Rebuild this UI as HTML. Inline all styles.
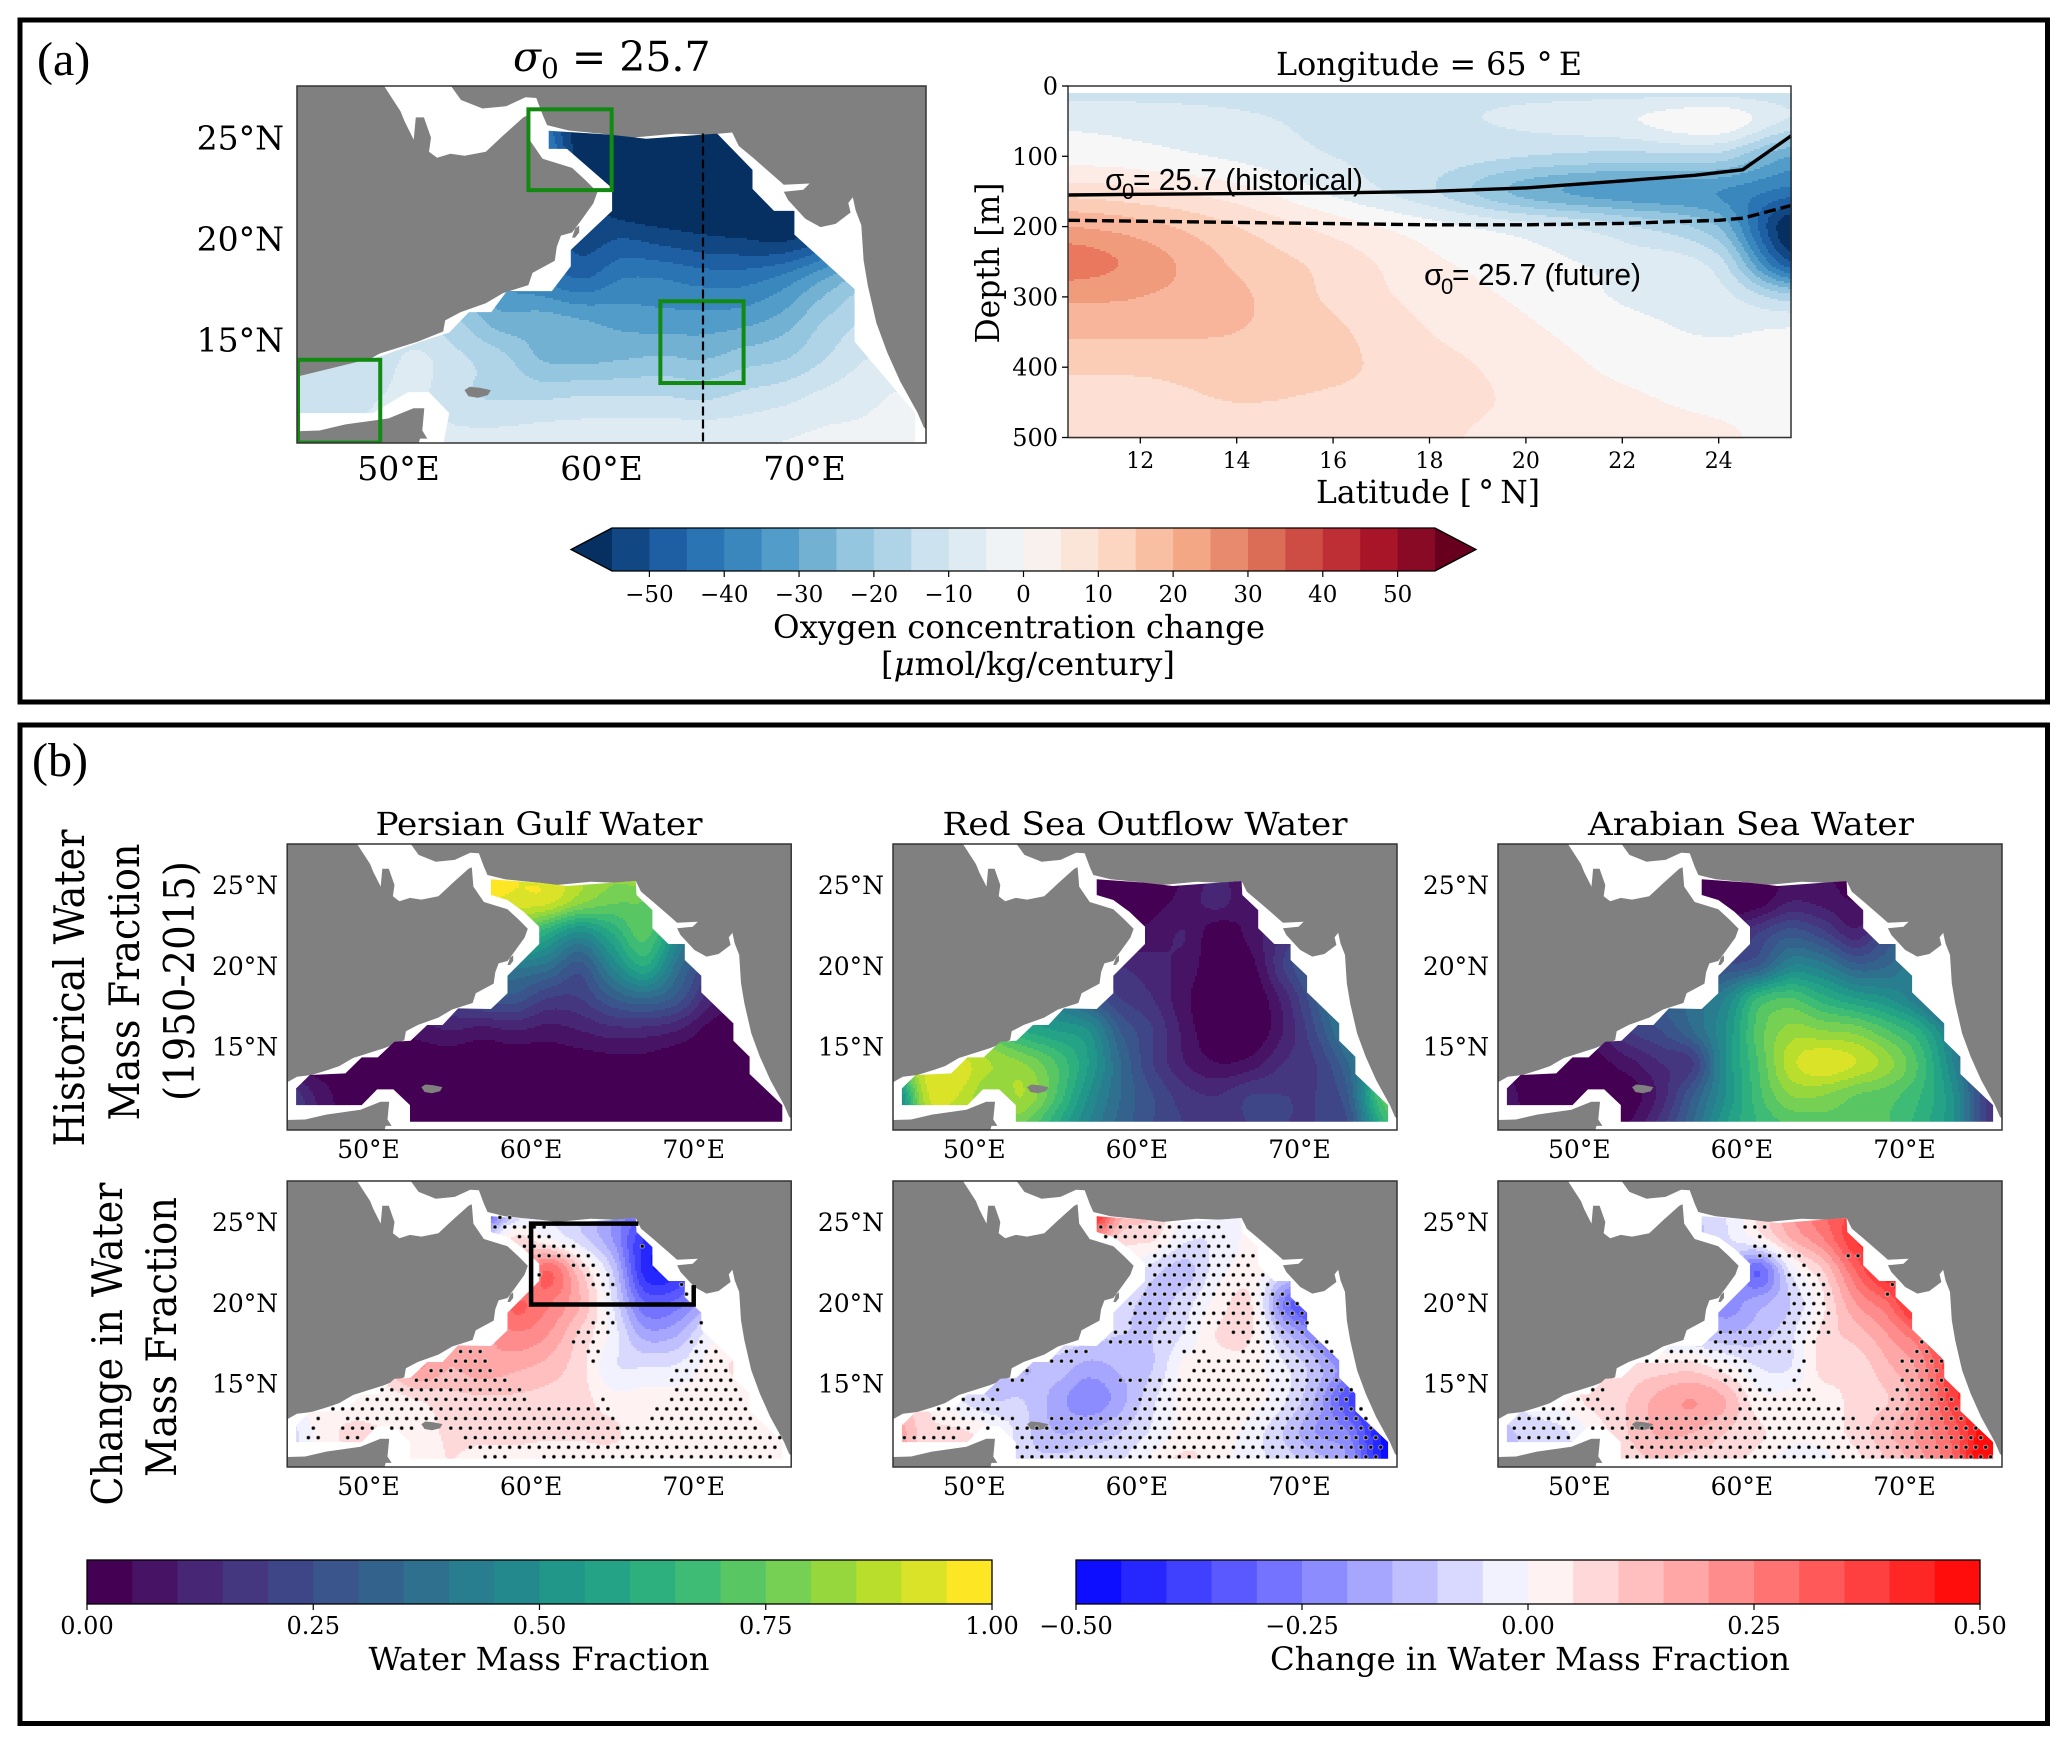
<!DOCTYPE html>
<html lang="en">
<head>
<meta charset="utf-8">
<title>Arabian Sea oxygen change and water mass fractions</title>
<style>
html,body{margin:0;padding:0;background:#fff;}
svg{display:block;}
text{fill:#000;font-family:"DejaVu Serif","Liberation Serif",serif;}
.serif2{font-family:"Liberation Serif",serif;}
.sans{font-family:"Liberation Sans","DejaVu Sans",sans-serif;}
</style>
</head>
<body>
<svg id="figure" xmlns="http://www.w3.org/2000/svg" width="2067" height="1744" viewBox="0 0 2067 1744">
  <rect x="0" y="0" width="2067" height="1744" fill="#fff"/>
  <rect x="20" y="20" width="2027.5" height="682" fill="none" stroke="#000" stroke-width="5"/>
  <rect x="20" y="725" width="2027.5" height="998.5" fill="none" stroke="#000" stroke-width="5"/>
  <text class="serif2" x="37" y="75" font-size="48">(a)</text>
  <text class="serif2" x="32" y="776" font-size="48">(b)</text>
  <g id="plots"></g>

  <text x="513" y="71" font-size="41"><tspan font-style="italic">σ</tspan><tspan font-size="28" dy="7">0</tspan><tspan dy="-7"> = 25.7</tspan></text>
  <text x="1429" y="75" font-size="32" text-anchor="middle" textLength="306" lengthAdjust="spacingAndGlyphs">Longitude = 65 °&#8201;E</text>
  <text x="1428" y="503" font-size="32" text-anchor="middle" textLength="224" lengthAdjust="spacingAndGlyphs">Latitude [&#8201;°&#8201;N]</text>
  <text transform="translate(999,263) rotate(-90)" font-size="33" text-anchor="middle" textLength="161" lengthAdjust="spacingAndGlyphs">Depth [m]</text>
  <g>
    <text class="sans" x="1105" y="190" font-size="31">σ</text>
    <text class="sans" x="1122" y="199" font-size="22">0</text>
    <text class="sans" x="1133" y="190" font-size="31" textLength="230" lengthAdjust="spacingAndGlyphs">= 25.7 (historical)</text>
  </g>
  <g>
    <text class="sans" x="1424" y="285" font-size="31">σ</text>
    <text class="sans" x="1441" y="294" font-size="22">0</text>
    <text class="sans" x="1452" y="285" font-size="31" textLength="189" lengthAdjust="spacingAndGlyphs">= 25.7 (future)</text>
  </g>
  <text x="1019" y="638" font-size="32" text-anchor="middle" textLength="492" lengthAdjust="spacingAndGlyphs">Oxygen concentration change</text>
  <text x="1028" y="675" font-size="32" text-anchor="middle" textLength="294" lengthAdjust="spacingAndGlyphs">[<tspan font-style="italic">μ</tspan>mol/kg/century]</text>

  <text x="539" y="835" font-size="32" text-anchor="middle" textLength="327" lengthAdjust="spacingAndGlyphs">Persian Gulf Water</text>
  <text x="1145" y="835" font-size="32" text-anchor="middle" textLength="405" lengthAdjust="spacingAndGlyphs">Red Sea Outflow Water</text>
  <text x="1751" y="835" font-size="32" text-anchor="middle" textLength="326" lengthAdjust="spacingAndGlyphs">Arabian Sea Water</text>

  <text transform="translate(84,988) rotate(-90)" font-size="42" text-anchor="middle" textLength="317" lengthAdjust="spacingAndGlyphs">Historical Water</text>
  <text transform="translate(139,982) rotate(-90)" font-size="42" text-anchor="middle" textLength="277" lengthAdjust="spacingAndGlyphs">Mass Fraction</text>
  <text transform="translate(194,981) rotate(-90)" font-size="42" text-anchor="middle" textLength="240" lengthAdjust="spacingAndGlyphs">(1950-2015)</text>
  <text transform="translate(122,1344) rotate(-90)" font-size="42" text-anchor="middle" textLength="323" lengthAdjust="spacingAndGlyphs">Change in Water</text>
  <text transform="translate(176,1337) rotate(-90)" font-size="42" text-anchor="middle" textLength="280" lengthAdjust="spacingAndGlyphs">Mass Fraction</text>

  <text x="539" y="1670" font-size="32" text-anchor="middle" textLength="341" lengthAdjust="spacingAndGlyphs">Water Mass Fraction</text>
  <text x="1530" y="1670" font-size="32" text-anchor="middle" textLength="520" lengthAdjust="spacingAndGlyphs">Change in Water Mass Fraction</text>
</svg>
<script>
/* ---------- map tick values ---------- */
const mapLonTicks = [50, 60, 70];
const mapLatTicks = [25, 20, 15];
const sectionLatTicks = [12, 14, 16, 18, 20, 22, 24];
const sectionDepthTicks = [0, 100, 200, 300, 400, 500];
const oxygenTicks = [-50, -40, -30, -20, -10, 0, 10, 20, 30, 40, 50];
const fractionTicks = [0, 0.25, 0.5, 0.75, 1];
const changeTicks = [-0.5, -0.25, 0, 0.25, 0.5];

/* ---------- geography (lon, lat) ---------- */
const seaOutline = [[49.26,27.6],[52.55,27.6],[53.08,26.86],[54.14,26.44],[55.3,26.55],[56.26,27],[56.79,26.96],[57.1,26.13],[57.32,25.62],[58.38,25.35],[60.5,25.14],[61.56,25],[63.68,25.2],[65.16,25.14],[66.44,25.25],[66.76,24.59],[67.5,23.97],[68.56,23.04],[68.98,22.67],[70.25,22.73],[69.94,22.42],[68.98,22.32],[69.19,21.91],[70.04,20.98],[70.79,20.57],[71.53,20.73],[72.27,21.29],[72.16,21.76],[72.38,22.05],[72.52,21.39],[72.8,20.67],[72.91,18.92],[73.12,17.68],[73.54,15.82],[74.07,14.38],[74.71,12.94],[75.56,11.39],[75.87,10.67],[76.1,10.46],[76.1,9.7],[50.95,9.7],[51.06,10.1],[51.42,10.1],[51.17,10.5],[51.27,11.6],[50.74,11.6],[49.51,11.1],[47.39,10.8],[46.11,10.5],[44.9,10.46],[44.9,12.74],[45.6,13.14],[46.5,13.25],[47.5,13.56],[48.2,13.8],[49.05,14.3],[50.95,14.9],[52.2,15.4],[52.3,15.95],[53.05,16.35],[54.3,16.8],[55.15,17.3],[56.4,17.7],[56.6,18.3],[57.7,18.9],[57.8,19.6],[58,20.15],[58.55,20.3],[59,20.9],[59.6,21.75],[59.8,22.3],[59.2,22.9],[58.55,23.5],[57.1,23.95],[56.45,24.9],[56.35,26.1],[56.15,26],[55.15,25.1],[54.3,24.3],[53.25,24.1],[52.55,24.2],[51.9,24],[51.5,24.3],[51.6,25],[51.25,26],[50.85,26],[50.75,24.9],[50.3,25.8],[50.1,26.3]];
const dataRegion = [[57.53,25.35],[60.5,25.14],[62.2,24.94],[66.44,25.25],[66.48,24.38],[67.46,23.45],[67.46,22.32],[68.45,21.35],[69.45,21.35],[69.45,20.36],[70.47,19.39],[70.47,18.36],[72.44,16.44],[72.44,15.37],[73.44,14.38],[73.44,13.31],[75.45,11.39],[75.45,10.36],[52.55,10.36],[52.55,11.39],[51.53,12.36],[50.53,12.36],[49.58,11.39],[45.55,11.39],[45.55,12.42],[46.39,13.25],[48.58,13.35],[49.58,14.34],[50.57,14.34],[51.59,15.31],[52.59,15.37],[53.61,16.34],[54.56,16.34],[55.51,17.37],[57.53,17.33],[58.55,18.3],[58.55,19.39],[60.5,21.35],[60.5,22.42],[59.54,23.35],[58.55,24.07],[57.53,24.38]];
const oxygenRegion = [[57.4,25.34],[60.5,25.14],[62.2,24.94],[65.7,25.2],[67.44,23.4],[67.44,22.46],[68.5,21.37],[69.5,21.37],[69.5,20.2],[72.47,17.5],[72.47,16],[72.47,14.9],[75.46,11.35],[75.46,9.8],[52.2,9.8],[52.5,11.36],[51.5,12.4],[50.47,12.4],[48.74,11.36],[45.13,11.36],[45.13,13.2],[49.2,14.2],[51.1,14.9],[52.5,15.35],[53.47,16.36],[54.57,16.36],[55.34,17.4],[57.55,17.4],[58.49,18.63],[58.49,19.44],[60.52,21.37],[60.52,22.5],[58.3,24.44],[57.4,24.44]];
const socotraIsland = [[53.25,12.5],[53.5,12.66],[54,12.62],[54.55,12.5],[54.4,12.25],[53.9,12.12],[53.45,12.2]];
const masirahIsland = [[58.55,20.05],[58.7,20.5],[58.9,20.65],[58.9,20.3],[58.7,20.05]];

/* ---------- field grid axes ---------- */
const gridLons = [45,47,49,51,53,55,57,59,61,63,65,67,69,71,73,75,77];
const gridLats = [26,24,22,20,18,16,14,12,10];

/* ---------- oxygen change on sigma surface (umol/kg/century) ---------- */
const oxygenChange = [
[-20,-20,-20,-20,-20,-20,-40,-60,-62,-62,-62,-62,-62,-60,-50,-30,-30],
[-20,-20,-20,-20,-20,-20,-35,-58,-62,-62,-62,-62,-62,-58,-50,-30,-30],
[-20,-20,-20,-20,-20,-30,-45,-52,-60,-62,-62,-62,-62,-58,-45,-30,-30],
[-20,-20,-20,-20,-20,-30,-45,-52,-50,-52,-54,-55,-56,-50,-40,-30,-30],
[-15,-15,-15,-20,-25,-35,-40,-45,-40,-40,-42,-42,-38,-30,-22,-20,-20],
[-12,-12,-13,-15,-20,-28,-28,-30,-32,-33,-33,-32,-28,-20,-15,-15,-15],
[-13,-13,-12,-9,-14,-18,-25,-26,-25,-24,-25,-22,-20,-15,-10,-8,-8],
[-14,-12,-10,-9,-14,-15,-15,-14,-14,-14,-15,-13,-11,-8,-6,-4,-4],
[-12,-10,-9,-7,-8,-8,-7,-7,-6,-6,-6,-6,-5,-4,-4,-3,-3]];

/* ---------- historical water mass fractions ---------- */
const pgwHistory = [
[.95,.95,.95,.95,.95,.95,.97,.95,.92,.85,.82,.85,.8,.7,.6,.5,.5],
[.9,.9,.9,.9,.9,.9,.95,.93,.92,.82,.76,.75,.7,.5,.4,.3,.3],
[.5,.5,.5,.5,.6,.7,.8,.75,.6,.48,.6,.72,.5,.3,.2,.1,.1],
[.3,.3,.3,.3,.35,.4,.42,.42,.38,.28,.46,.6,.38,.2,.1,.05,.05],
[.1,.1,.1,.1,.15,.22,.28,.28,.2,.2,.3,.35,.28,.12,.05,.02,.02],
[.02,.02,.02,.03,.07,.1,.08,.1,.08,.1,.13,.13,.1,.03,.01,.01,.01],
[.02,.02,.02,.01,.01,.01,.01,.01,.01,.02,.03,.03,.01,.01,.01,.01,.01],
[.2,.08,.02,.01,.01,.01,.01,.01,.01,.01,.01,.01,.01,.01,.01,.01,.01],
[.25,.1,.02,.01,.01,.01,.01,.01,.01,.01,.01,.01,.01,.01,.01,.01,.01]];
const rsowHistory = [
[.4,.1,.05,.02,.02,.02,.01,.01,.02,.05,.1,.05,.05,.1,.2,.3,.3],
[.3,.1,.05,.02,.02,.02,.01,.01,.03,.07,.12,.05,.08,.15,.2,.3,.3],
[.3,.2,.15,.12,.1,.1,.1,.05,.07,.1,.01,.07,.15,.25,.35,.4,.4],
[.4,.3,.25,.25,.25,.25,.2,.15,.12,.08,.01,.03,.2,.35,.5,.6,.6],
[.5,.5,.45,.45,.45,.4,.3,.2,.15,.06,0,0,.12,.3,.5,.7,.7],
[.7,.75,.75,.7,.6,.55,.5,.3,.2,.08,0,0,.1,.25,.45,.7,.7],
[.75,.9,.92,.85,.8,.7,.55,.35,.2,.1,.05,.07,.15,.2,.35,.6,.6],
[.4,.88,.9,.8,.85,.7,.5,.35,.25,.17,.15,.2,.2,.2,.3,.7,.8],
[.35,.8,.85,.8,.75,.6,.45,.33,.25,.2,.18,.2,.2,.2,.25,.6,.8]];
const aswHistory = [
[.3,.2,.1,.05,.02,.02,0,0,.02,.05,.05,.05,.1,.2,.3,.3,.3],
[.3,.2,.1,.05,.02,.02,0,0,.02,.1,.08,.05,.1,.2,.3,.3,.3],
[.3,.2,.15,.1,.1,.1,.05,.1,.2,.28,.22,.12,.25,.3,.3,.3,.3],
[.3,.25,.2,.2,.2,.2,.2,.25,.3,.45,.42,.32,.35,.45,.4,.3,.3],
[.2,.2,.2,.2,.25,.3,.35,.45,.65,.7,.62,.55,.5,.4,.2,.2,.2],
[.1,.1,.1,.1,.2,.25,.35,.5,.72,.82,.8,.78,.7,.6,.4,.2,.2],
[.05,.03,.02,.03,.08,.15,.2,.5,.7,.88,.94,.9,.82,.68,.45,.2,.2],
[.1,.02,.02,.05,.02,.12,.3,.5,.68,.8,.8,.75,.72,.65,.5,.2,.1],
[.12,.05,.03,.05,.05,.18,.35,.55,.65,.7,.72,.72,.7,.62,.5,.2,.1]];

/* ---------- change in water mass fraction ---------- */
const pgwChange = [
[-.05,-.05,-.05,-.05,-.05,-.1,-.4,-.15,-.05,-.1,-.2,-.25,-.2,-.1,0,0,0],
[0,0,0,0,0,0,-.1,.06,0,-.08,-.2,-.4,-.4,-.2,0,0,0],
[0,0,0,0,0,.02,.05,.1,.3,.11,-.1,-.42,-.42,-.25,-.05,0,0],
[.02,.02,.02,.02,.02,.05,.18,.3,.26,.15,-.05,-.3,-.28,-.15,-.02,0,0],
[.02,.02,.02,.05,.1,.14,.18,.24,.2,.09,-.02,-.17,-.15,-.02,.02,.02,.02],
[.02,.02,.02,.08,.2,.15,.18,.16,.13,.07,-.04,-.05,-.04,.02,.06,.02,.02],
[.02,.02,.02,.02,.05,.08,.09,.09,.08,.07,.02,.02,.02,.02,.02,.02,.02],
[-.08,.02,.06,.05,.03,.06,.07,.07,.06,.06,.06,.02,.02,.02,.02,.02,.02],
[-.05,.02,.04,.03,.02,.05,.02,.02,.02,.02,.02,.02,.02,.02,.02,.02,.02]];
const rsowChange = [
[.2,.2,.2,.2,.2,.3,.55,.2,.1,-.02,-.04,.02,.02,0,0,0,0],
[.02,.02,.02,.02,.02,.02,.25,.08,.06,-.04,-.04,.02,.07,.02,0,0,0],
[.02,.02,.02,.02,.02,.02,.02,.02,-.08,-.12,-.02,.02,-.05,-.1,-.2,-.2,-.2],
[.02,.02,.02,.02,.02,.02,-.04,-.07,-.12,-.07,.02,.055,-.25,-.4,-.5,-.5,-.5],
[.02,.02,.02,-.02,-.05,-.06,-.08,-.1,-.1,-.04,.055,.055,-.12,-.25,-.5,-.5,-.5],
[.02,.02,-.02,-.08,-.15,-.12,-.17,-.14,-.1,.02,.02,.02,-.04,-.13,-.25,-.4,-.4],
[.1,.05,-.04,-.1,-.1,-.17,-.24,-.17,-.06,.02,.02,.02,-.04,-.16,-.35,-.45,-.45],
[.2,.07,.06,.02,-.08,-.15,-.14,-.1,-.04,.02,.02,-.02,-.1,-.2,-.25,-.45,-.5],
[.2,.07,.05,.02,-.08,-.08,-.06,-.05,.02,.07,.02,-.03,-.07,-.12,-.2,-.45,-.5]];
const aswChange = [
[0,0,0,0,0,-.05,-.1,-.05,.05,.2,.3,.35,.4,.3,0,0,0],
[0,0,0,0,0,0,-.1,-.06,.02,.15,.25,.4,.45,.4,.2,0,0],
[0,0,0,0,0,0,-.05,-.1,-.3,-.04,.1,.3,.45,.45,.3,0,0],
[0,0,0,0,0,-.05,-.15,-.22,-.17,-.1,.04,.2,.3,.48,.45,.3,.3],
[0,0,0,-.02,-.05,-.08,-.1,-.14,-.12,-.06,.07,.12,.2,.3,.45,.4,.4],
[.02,.02,.02,.05,.06,.07,.08,.02,-.05,-.05,.07,.07,.14,.22,.4,.4,.4],
[-.05,-.02,.02,.07,.1,.17,.2,.15,.02,.02,.02,.07,.1,.2,.38,.45,.45],
[-.12,-.08,-.06,.02,.1,.16,.15,.1,.06,.02,.02,.07,.14,.22,.32,.5,.55],
[-.12,-.08,-.06,.02,.07,.1,.07,.06,.03,-.03,-.02,.03,.1,.18,.3,.55,.6]];

/* ---------- significance runs: [row index, lon start, lon end] ---------- */
const pgwSignificant = [[0,56.6,58.4],[0,60.7,75.2],[1,55.7,75.4],[2,45.8,47],[2,48.2,49.9],[2,55.4,75.3],[3,46.1,46.7],[3,48.4,50.3],[3,51.4,52.9],[3,54.8,74.3],[4,46.4,47],[4,48.2,65.6],[4,67.3,74],[5,47.3,65.2],[5,67.6,73.5],[6,49.4,59.6],[6,64.3,65],[6,68.6,73.4],[7,50.8,59.4],[7,68.8,72.8],[8,52.4,58.4],[8,68.6,72.5],[9,53.3,58],[9,68.9,72.5],[10,54.8,57.2],[10,63.8,64.4],[10,69.7,72.2],[11,55.6,56.9],[11,63.1,64.6],[11,70,71.7],[12,62.5,64.4],[12,69.7,71],[13,62.8,65.2],[14,63.8,65.5],[14,70.3,70.7],[15,64.6,65.3],[17,64.6,65.3],[17,69.3,69.6],[18,63.8,65.5],[18,69,69.4],[19,60.4,60.6],[19,63.5,65.2],[20,62.5,64.4],[21,60.3,64],[22,59.5,63.2],[22,66.8,67.1],[23,58.7,61.7],[24,57.7,61.4],[25,57.5,59.2]];
const rsowSignificant = [[0,52.7,75.1],[1,52.5,75.3],[2,45.6,49.3],[2,52.5,75.2],[3,47.6,49.7],[3,50.6,51.2],[3,52.5,74.5],[4,47.4,52.8],[4,54.2,74.3],[5,47.6,52],[5,59.7,73.8],[6,49.2,51.6],[6,59.7,73.3],[7,51.2,52],[7,60.3,73.2],[8,52.2,53.5],[8,58.6,72.8],[9,53.1,53.8],[9,63.3,72.4],[10,54.6,56.5],[10,63.5,72.2],[11,55.5,57.1],[11,62.7,64.6],[11,66.3,72],[12,58.2,62.4],[12,66.5,71.7],[13,58.4,63.9],[13,65.4,70.5],[14,59.3,68.3],[14,68.6,70.5],[15,59.7,70.3],[16,59.5,63.9],[16,65.4,67.5],[16,68.4,69.9],[17,60.1,69.3],[18,60.6,68.4],[19,60.9,68],[20,60.5,67.3],[21,60.9,67.4],[22,61.1,66.1],[23,57.8,65.6],[24,57.6,65.4]];
const aswSignificant = [[0,52.6,75.5],[1,52.8,75],[2,46,49.6],[2,52.7,74.8],[3,45.7,50.2],[3,50.7,74.4],[4,46,49.4],[4,51.3,67],[4,68.2,73.9],[5,47.6,52.4],[5,59.6,66.1],[5,68.3,73.4],[6,49.6,51.5],[6,59.8,64.7],[6,68.8,73.2],[7,50.8,51.7],[7,59.6,61.9],[7,63.1,64.3],[7,69.1,72.7],[8,51.8,52.2],[8,58.6,61],[8,63.2,63.6],[8,69.4,72.4],[9,58.3,60.7],[9,63.1,63.7],[9,69.7,72.2],[10,53.8,60.4],[10,63.7,64.3],[10,69.4,72.4],[11,55.3,63.4],[11,70.3,71.5],[12,58,64.7],[12,70.6,71.2],[13,58.3,65.5],[14,62.2,65.1],[15,62.5,65.5],[16,62.7,65.3],[17,62.5,65.5],[17,68.8,69.4],[18,62.9,65.3],[18,68.8,69.4],[19,62.5,64.9],[20,63.4,64],[20,60.2,60.6],[21,60.7,63.8],[21,66.5,67.3],[22,60.4,61.7],[23,60.7,61.4],[24,59.9,61.7]];

/* ---------- map annotations (lon, lat) ---------- */
const greenBoxLon0 = [56.4, 62.9, 45.05];
const greenBoxLon1 = [60.5, 67, 49.1];
const greenBoxLatTop = [26.4, 16.9, 14];
const greenBoxLatBottom = [22.4, 12.85, 9.9];
const transectLon = 65;
const transectLatTop = 25.2;
const blackBoxLon = [66.6, 60, 60, 70, 70];
const blackBoxLat = [24.9, 24.9, 19.9, 19.9, 21.1];

/* ---------- depth section along 65E ---------- */
const sectionLats = [10.5, 12, 14, 16, 18, 20, 22, 24, 25.5];
const sectionDepths = [10, 50, 100, 150, 200, 250, 300, 350, 400, 450, 500];
const sectionChange = [
[-11,-11,-11,-11,-11,-11,-11,-11,-12],
[-6,-7,-9,-11,-11,-9,-6,-1,-11],
[-2,-3,-6,-10,-12,-15,-17,-17,-30],
[8,6,2,-6,-14,-27,-33,-35,-42],
[20,17,10,3,-3,-8,-14,-25,-60],
[28,23,14,8,1,-3,-7,-13,-50],
[21,20,16,9,3,-1,-5.5,-8,-18],
[16,16,15,11,5,1,-3,-5.5,-4],
[11,11,12,11,7,3,-1,-2,-2],
[7,8,10,9,7,4,1,-1,-2],
[7,7,7,7,6,3,2,1,-2]];
const historicalLat = [10.5, 12, 14, 16, 18, 20, 22, 23.5, 24.5, 25.5];
const historicalDepth = [155, 154, 153, 152, 150, 145, 135, 127, 119, 71];
const futureLat = [10.5, 14, 18, 20, 22, 24, 24.5, 25.5];
const futureDepth = [191, 194, 197.5, 197.5, 195.5, 191, 188, 170];

/* ---------- colour scale definitions ---------- */
const rdbuAnchors = ['#053061','#2166ac','#4393c3','#92c5de','#d1e5f0','#f7f7f7','#fddbc7','#f4a582','#d6604d','#b2182b','#67001f'];
const viridisAnchors = ['#440154','#482878','#3e4a89','#31688e','#26828e','#1f9e89','#35b779','#6ece58','#b5de2b','#fde725'];
const bwrAnchors = ['#0000ff','#ffffff','#ff0000'];

const SVGNS = 'http://www.w3.org/2000/svg';
const root = document.getElementById('plots');

function mk(parent, tag, name, interactable) {
  const el = document.createElementNS(SVGNS, tag);
  
  
  parent.appendChild(el);
  return el;
}
function hexToRgb(h) { return [parseInt(h.slice(1,3),16), parseInt(h.slice(3,5),16), parseInt(h.slice(5,7),16)]; }
function sampleMap(anchors, t) {
  t = Math.max(0, Math.min(1, t));
  const f = t * (anchors.length - 1), i = Math.min(anchors.length - 2, Math.floor(f)), k = f - i;
  const a = hexToRgb(anchors[i]), b = hexToRgb(anchors[i+1]);
  return 'rgb(' + a.map((v, j) => Math.round(v + (b[j] - v) * k)).join(',') + ')';
}
function makeScale(lo, hi, n, anchors, mode) {
  const colors = [];
  for (let i = 0; i < n; i++) {
    let t = i / (n - 1);
    if (mode === 'extended') t = (i + 1) / (n + 1);
    if (mode === 'centred') t = (i + 0.5) / n;
    colors.push(sampleMap(anchors, t));
  }
  const extended = mode === 'extended';
  const under = extended ? sampleMap(anchors, 0) : colors[0];
  const over = extended ? sampleMap(anchors, 1) : colors[n - 1];
  const all = colors.concat([under, over]);
  const d = (hi - lo) / n;
  return {lo, hi, n, d, colors, under, over, all,
    bin(v) {
      const i = Math.floor((v - lo) / d);
      if (i < 0) return extended ? n : 0;
      if (i >= n) return extended ? n + 1 : n - 1;
      return i;
    }};
}
const oxygenScale = makeScale(-55, 55, 22, rdbuAnchors, 'extended');
const sectionScale = makeScale(-55, 55, 22, rdbuAnchors, 'extended');
sectionScale.all[10] = '#f7f7f7';
sectionScale.all[11] = '#fdece6';
sectionScale.all[12] = '#fddfd3';
sectionScale.all[13] = '#fbcdb6';
sectionScale.all[14] = '#f8b59b';
sectionScale.all[15] = '#f09c7c';
sectionScale.all[16] = '#e9785f';
const fractionScale = makeScale(0, 1, 20, viridisAnchors, 'plain');
const changeScale = makeScale(-0.5, 0.5, 20, bwrAnchors, 'centred');

function clampI(i, n) { return i < 0 ? 0 : (i >= n ? n - 1 : i); }
function cr(p0, p1, p2, p3, t) {
  return 0.5 * (2*p1 + (p2-p0)*t + (2*p0-5*p1+4*p2-p3)*t*t + (3*p1-p0-3*p2+p3)*t*t*t);
}
function sampleGrid(g, u, v) {
  const nr = g.length, nc = g[0].length;
  const iu = clampI(Math.floor(u), nc - 1), iv = clampI(Math.floor(v), nr - 1);
  const tu = u - iu, tv = v - iv;
  const vals = [];
  for (let r = -1; r <= 2; r++) {
    const row = g[clampI(iv + r, nr)];
    vals.push(cr(row[clampI(iu-1,nc)], row[iu], row[clampI(iu+1,nc)], row[clampI(iu+2,nc)], tu));
  }
  return cr(vals[0], vals[1], vals[2], vals[3], tv);
}
function axisIndex(axis, val) {
  const asc = axis[1] > axis[0];
  for (let i = 0; i < axis.length - 1; i++) {
    const a = axis[i], b = axis[i+1];
    if (asc ? val <= b : val >= b) return i + (val - a) / (b - a);
  }
  return axis.length - 1;
}

const STEP = 2;
function drawBands(parent, box, sample, scale, clipId, name) {
  const runs = scale.all.map(() => []);
  const x0 = Math.round(box.x), y0 = Math.round(box.y);
  for (let py = y0; py < y0 + box.h; py += STEP) {
    let cur = -1, start = x0;
    for (let px = x0; px < x0 + box.w; px += STEP) {
      const b = scale.bin(sample(px + STEP/2, py + STEP/2));
      if (b !== cur) {
        if (cur >= 0) runs[cur].push('M' + start + ' ' + py + 'h' + (px - start) + 'v' + STEP + 'h' + (start - px) + 'z');
        cur = b; start = px;
      }
    }
    const end = x0 + Math.ceil(box.w / STEP) * STEP;
    if (cur >= 0) runs[cur].push('M' + start + ' ' + py + 'h' + (end - start) + 'v' + STEP + 'h' + (start - end) + 'z');
  }
  const g = mk(parent, 'g', name + '-contours', false);
  if (clipId) g.setAttribute('clip-path', 'url(#' + clipId + ')');
  runs.forEach((r, i) => {
    if (!r.length) return;
    const p = mk(g, 'path', name + '-contour-band', false);
    p.setAttribute('d', r.join(''));
    p.setAttribute('fill', scale.all[i]);
    p.setAttribute('shape-rendering', 'crispEdges');
  });
}

function addText(parent, name, str, x, y, size, anchor) {
  const t = mk(parent, 'text', name, false);
  t.textContent = str;
  t.setAttribute('x', x);
  t.setAttribute('y', y);
  t.setAttribute('font-size', size);
  t.setAttribute('text-anchor', anchor);
  return t;
}
function addLine(parent, name, x1, y1, x2, y2, color, width) {
  const l = mk(parent, 'line', name, false);
  l.setAttribute('x1', x1); l.setAttribute('y1', y1);
  l.setAttribute('x2', x2); l.setAttribute('y2', y2);
  l.setAttribute('stroke', color); l.setAttribute('stroke-width', width);
  return l;
}

let clipCounter = 0;
function drawMap(cfg) {
  const g = mk(root, 'g', cfg.name, false);
  const X = lon => cfg.x + (lon - 45) * cfg.kx;
  const Y = lat => cfg.y25 + (25 - lat) * cfg.ky;
  const ptsOf = arr => arr.map(p => X(p[0]).toFixed(1) + ',' + Y(p[1]).toFixed(1)).join(' ');

  const defs = mk(g, 'defs', cfg.name + '-defs', false);
  const axId = 'axclip' + (++clipCounter), regId = 'regclip' + clipCounter;
  const axClip = mk(defs, 'clipPath', cfg.name + '-axes-clip', false);
  axClip.setAttribute('id', axId);
  const axRect = mk(axClip, 'rect', cfg.name + '-axes-clip-rect', false);
  axRect.setAttribute('x', cfg.x); axRect.setAttribute('y', cfg.top);
  axRect.setAttribute('width', cfg.w); axRect.setAttribute('height', cfg.h);
  const regClip = mk(defs, 'clipPath', cfg.name + '-region-clip', false);
  regClip.setAttribute('id', regId);
  const regPoly = mk(regClip, 'polygon', cfg.name + '-region-clip-shape', false);
  regPoly.setAttribute('points', ptsOf(cfg.region));

  const land = mk(g, 'rect', cfg.name + '-land', false);
  land.setAttribute('x', cfg.x); land.setAttribute('y', cfg.top);
  land.setAttribute('width', cfg.w); land.setAttribute('height', cfg.h);
  land.setAttribute('fill', '#808080');

  const inner = mk(g, 'g', cfg.name + '-map-layers', false);
  inner.setAttribute('clip-path', 'url(#' + axId + ')');
  const sea = mk(inner, 'polygon', cfg.name + '-sea', false);
  sea.setAttribute('points', ptsOf(seaOutline));
  sea.setAttribute('fill', '#fff');

  const sample = (px, py) => {
    const lon = 45 + (px - cfg.x) / cfg.kx;
    const lat = 25 - (py - cfg.y25) / cfg.ky;
    return sampleGrid(cfg.field, (lon - gridLons[0]) / 2, (gridLats[0] - lat) / 2);
  };
  drawBands(inner, {x: cfg.x, y: cfg.top, w: cfg.w, h: cfg.h}, sample, cfg.scale, regId, cfg.name);

  const soc = mk(inner, 'polygon', cfg.name + '-socotra-island', false);
  soc.setAttribute('points', ptsOf(socotraIsland));
  soc.setAttribute('fill', '#808080');
  const mas = mk(inner, 'polygon', cfg.name + '-masirah-island', false);
  mas.setAttribute('points', ptsOf(masirahIsland));
  mas.setAttribute('fill', '#808080');

  if (cfg.significant) {
    const dots = mk(inner, 'g', cfg.name + '-stippling', false);
    cfg.significant.forEach(run => {
      const k = run[0];
      const lat = 10.48 + 0.592 * k;
      const offset = (k % 2) ? 0.302 : 0;
      const j0 = Math.ceil((run[1] - 56.57 - offset) / 0.604);
      const j1 = Math.floor((run[2] - 56.57 - offset) / 0.604);
      for (let j = j0; j <= j1; j++) {
        const c = mk(dots, 'circle', 'stipple-dot', false);
        c.setAttribute('cx', X(56.57 + offset + j * 0.604).toFixed(1));
        c.setAttribute('cy', Y(lat).toFixed(1));
        c.setAttribute('r', 2);
        c.setAttribute('fill', '#000');
        c.setAttribute('stroke', 'rgba(255,255,255,0.45)');
        c.setAttribute('stroke-width', 1.2);
      }
    });
  }
  if (cfg.annotate) cfg.annotate(inner, X, Y);

  const spine = mk(g, 'rect', cfg.name + '-spine', false);
  spine.setAttribute('x', cfg.x); spine.setAttribute('y', cfg.top);
  spine.setAttribute('width', cfg.w); spine.setAttribute('height', cfg.h);
  spine.setAttribute('fill', 'none');
  spine.setAttribute('stroke', '#333');
  spine.setAttribute('stroke-width', 1.5);

  mapLonTicks.forEach(v => addText(g, cfg.name + '-lon-tick-label', v + '°E', X(v), cfg.top + cfg.h + cfg.xLabelOffset, cfg.fontSize, 'middle'));
  mapLatTicks.forEach(v => addText(g, cfg.name + '-lat-tick-label', v + '°N', cfg.x - cfg.yLabelGap, Y(v) + cfg.fontSize * 0.36, cfg.fontSize, 'end'));
}

function annotateOxygen(layer, X, Y) {
  greenBoxLon0.forEach((lon0, i) => {
    const r = mk(layer, 'rect', 'green-region-box', false);
    r.setAttribute('x', X(lon0));
    r.setAttribute('y', Y(greenBoxLatTop[i]));
    r.setAttribute('width', X(greenBoxLon1[i]) - X(lon0));
    r.setAttribute('height', Y(greenBoxLatBottom[i]) - Y(greenBoxLatTop[i]));
    r.setAttribute('fill', 'none');
    r.setAttribute('stroke', '#128a12');
    r.setAttribute('stroke-width', 4);
  });
  const d = addLine(layer, 'transect-line-65e', X(transectLon), Y(transectLatTop), X(transectLon), Y(9.8), '#000', 2.2);
  d.setAttribute('stroke-dasharray', '9 4');
}
function annotateBlackBox(layer, X, Y) {
  const p = mk(layer, 'polyline', 'black-region-box', false);
  p.setAttribute('points', blackBoxLon.map((lon, i) => X(lon).toFixed(1) + ',' + Y(blackBoxLat[i]).toFixed(1)).join(' '));
  p.setAttribute('fill', 'none');
  p.setAttribute('stroke', '#000');
  p.setAttribute('stroke-width', 4.5);
}

/* panel (a) map */
drawMap({name: 'oxygen-map', x: 297, top: 86, w: 629, h: 357, y25: 137.6, kx: 20.3, ky: 20.2, region: oxygenRegion,
  field: oxygenChange, scale: oxygenScale, annotate: annotateOxygen, fontSize: 33, xLabelOffset: 37, yLabelGap: 13});

/* panel (b) maps */
const colX = [287.2, 893, 1498];
const rowTop = [844, 1181];
const histFields = [pgwHistory, rsowHistory, aswHistory];
const changeFields = [pgwChange, rsowChange, aswChange];
const sigFields = [pgwSignificant, rsowSignificant, aswSignificant];
const colNames = ['pgw', 'rsow', 'asw'];
colX.forEach((x, c) => {
  drawMap({name: colNames[c] + '-history-map', x, top: rowTop[0], w: 504, h: 286, y25: rowTop[0] + 41, kx: 16.26, ky: 16.17, region: dataRegion,
    field: histFields[c], scale: fractionScale, fontSize: 25, xLabelOffset: 28, yLabelGap: 9});
  drawMap({name: colNames[c] + '-change-map', x, top: rowTop[1], w: 504, h: 286, y25: rowTop[1] + 41, kx: 16.26, ky: 16.17, region: dataRegion,
    field: changeFields[c], scale: changeScale, significant: sigFields[c], annotate: c === 0 ? annotateBlackBox : null,
    fontSize: 25, xLabelOffset: 28, yLabelGap: 9});
});

/* depth section */
(function drawSection() {
  const g = mk(root, 'g', 'depth-section', false);
  const left = 1068, right = 1791, top = 86, bottom = 437.5;
  const X = lat => left + (lat - 10.5) * (right - left) / 15;
  const Y = dep => top + dep * (bottom - top) / 500;
  const sample = (px, py) => {
    const lat = 10.5 + (px - left) * 15 / (right - left);
    const dep = (py - top) * 500 / (bottom - top);
    return sampleGrid(sectionChange, axisIndex(sectionLats, lat), axisIndex(sectionDepths, dep));
  };
  drawBands(g, {x: left, y: Y(sectionDepths[0]), w: right - left, h: Y(500) - Y(sectionDepths[0])}, sample, sectionScale, null, 'section');
  const path = (name, lats, deps, dash) => {
    const p = mk(g, 'polyline', name, false);
    p.setAttribute('points', lats.map((la, i) => X(la).toFixed(1) + ',' + Y(deps[i]).toFixed(1)).join(' '));
    p.setAttribute('fill', 'none');
    p.setAttribute('stroke', '#000');
    p.setAttribute('stroke-width', 3.4);
    if (dash) p.setAttribute('stroke-dasharray', dash);
  };
  path('historical-isopycnal-line', historicalLat, historicalDepth);
  path('future-isopycnal-line', futureLat, futureDepth, '12 5');
  const spine = mk(g, 'rect', 'section-spine', false);
  spine.setAttribute('x', left); spine.setAttribute('y', top);
  spine.setAttribute('width', right - left); spine.setAttribute('height', bottom - top);
  spine.setAttribute('fill', 'none'); spine.setAttribute('stroke', '#333'); spine.setAttribute('stroke-width', 1.5);
  sectionLatTicks.forEach(v => {
    addLine(g, 'section-x-tick', X(v), bottom, X(v), bottom + 6, '#000', 1.3);
    addText(g, 'section-x-tick-label', String(v), X(v), 468, 22, 'middle');
  });
  sectionDepthTicks.forEach(v => {
    addLine(g, 'section-y-tick', left - 6, Y(v), left, Y(v), '#000', 1.3);
    addText(g, 'section-y-tick-label', String(v), left - 10, Y(v) + 8.5, 24, 'end');
  });
})();

/* colour bars */
function drawColorbar(cfg) {
  const g = mk(root, 'g', cfg.name, false);
  const X = v => cfg.x + (v - cfg.scale.lo) * cfg.w / (cfg.scale.hi - cfg.scale.lo);
  cfg.scale.colors.forEach((col, i) => {
    const r = mk(g, 'rect', cfg.name + '-swatch', false);
    const v0 = cfg.scale.lo + i * cfg.scale.d;
    r.setAttribute('x', X(v0).toFixed(2));
    r.setAttribute('y', cfg.y);
    r.setAttribute('width', (X(v0 + cfg.scale.d) - X(v0) + 0.4).toFixed(2));
    r.setAttribute('height', cfg.h);
    r.setAttribute('fill', col);
  });
  if (cfg.arrows) {
    const tip = 41, my = cfg.y + cfg.h / 2;
    const a = mk(g, 'polygon', cfg.name + '-under-arrow', false);
    a.setAttribute('points', cfg.x + ',' + cfg.y + ' ' + (cfg.x - tip) + ',' + my + ' ' + cfg.x + ',' + (cfg.y + cfg.h));
    a.setAttribute('fill', cfg.scale.under);
    const b = mk(g, 'polygon', cfg.name + '-over-arrow', false);
    b.setAttribute('points', (cfg.x + cfg.w) + ',' + cfg.y + ' ' + (cfg.x + cfg.w + tip) + ',' + my + ' ' + (cfg.x + cfg.w) + ',' + (cfg.y + cfg.h));
    b.setAttribute('fill', cfg.scale.over);
    const o = mk(g, 'polygon', cfg.name + '-outline', false);
    o.setAttribute('points', [cfg.x + ',' + cfg.y, (cfg.x - tip) + ',' + my, cfg.x + ',' + (cfg.y + cfg.h), (cfg.x + cfg.w) + ',' + (cfg.y + cfg.h), (cfg.x + cfg.w + tip) + ',' + my, (cfg.x + cfg.w) + ',' + cfg.y].join(' '));
    o.setAttribute('fill', 'none'); o.setAttribute('stroke', '#000'); o.setAttribute('stroke-width', 1.3);
  } else {
    const o = mk(g, 'rect', cfg.name + '-outline', false);
    o.setAttribute('x', cfg.x); o.setAttribute('y', cfg.y);
    o.setAttribute('width', cfg.w); o.setAttribute('height', cfg.h);
    o.setAttribute('fill', 'none'); o.setAttribute('stroke', '#000'); o.setAttribute('stroke-width', 1.3);
  }
  cfg.ticks.forEach(v => {
    addLine(g, cfg.name + '-tick', X(v), cfg.y + cfg.h, X(v), cfg.y + cfg.h + 6, '#000', 1.2);
    const s = (v < 0 ? '−' : '') + (cfg.decimals ? Math.abs(v).toFixed(cfg.decimals) : String(Math.abs(v)));
    addText(g, cfg.name + '-tick-label', s, X(v), cfg.labelY, cfg.fontSize, 'middle');
  });
}
drawColorbar({name: 'oxygen-colorbar', x: 612, w: 823, y: 528, h: 43, scale: oxygenScale, arrows: true, ticks: oxygenTicks, labelY: 602, fontSize: 23, decimals: 0});
drawColorbar({name: 'fraction-colorbar', x: 87, w: 905, y: 1560, h: 44, scale: fractionScale, ticks: fractionTicks, labelY: 1634, fontSize: 24, decimals: 2});
drawColorbar({name: 'change-colorbar', x: 1076, w: 904, y: 1560, h: 44, scale: changeScale, ticks: changeTicks, labelY: 1634, fontSize: 24, decimals: 2});
</script>
</body>
</html>
